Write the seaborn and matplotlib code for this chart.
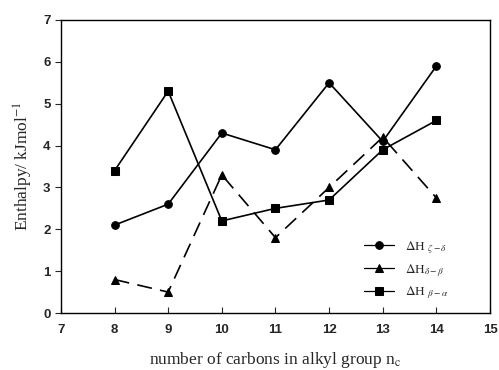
import pandas as pd
import matplotlib
matplotlib.use('Agg')
import matplotlib.pyplot as plt
import seaborn as sns

carbons = [8, 9, 10, 11, 12, 13, 14]
h_zeta_delta = [2.1, 2.6, 4.3, 3.9, 5.5, 4.1, 5.9]
h_delta_beta = [0.8, 0.5, 3.3, 1.8, 3.0, 4.2, 2.75]
h_beta_alpha = [3.4, 5.3, 2.2, 2.5, 2.7, 3.9, 4.6]

labels = [r'$\Delta$H $_{\zeta-\delta}$',
          r'$\Delta$H$_{\delta-\beta}$',
          r'$\Delta$H $_{\beta-\alpha}$']

sns.set_style('ticks')
plt.rcParams['mathtext.fontset'] = 'stix'

frames = []
for lab, vals in zip(labels, [h_zeta_delta, h_delta_beta, h_beta_alpha]):
    frames.append(pd.DataFrame({'n': carbons, 'H': vals, 'series': lab}))
df = pd.concat(frames, ignore_index=True)

fig = plt.figure(figsize=(4.99, 3.70), dpi=100)
ax = fig.add_axes([0.122, 0.154, 0.860, 0.792])

sns.lineplot(data=df, x='n', y='H', hue='series', style='series',
             palette={l: 'black' for l in labels},
             markers={labels[0]: 'o', labels[1]: '^', labels[2]: 's'},
             dashes={labels[0]: '', labels[1]: (9, 5), labels[2]: ''},
             markersize=5.5, linewidth=1.2, markeredgecolor='black',
             ax=ax)

ax.set_xlim(7, 15)
ax.set_ylim(0, 7)
ax.set_xticks(range(7, 16))
ax.set_yticks(range(0, 8))
for s in ax.spines.values():
    s.set_visible(True)
    s.set_linewidth(1.0)
    s.set_color('black')
ax.tick_params(axis='x', direction='in', length=4, labelsize=9.5, pad=8)
ax.tick_params(axis='y', direction='out', length=4, labelsize=9.5)
for t in ax.get_xticklabels() + ax.get_yticklabels():
    t.set_fontfamily('Liberation Sans')
    t.set_fontweight('bold')

ax.set_xlabel('number of carbons in alkyl group n$_{\\mathrm{c}}$',
              fontfamily='Liberation Serif', fontsize=12.5, labelpad=10)
ax.set_ylabel('Enthalpy/ kJmol$^{\\mathrm{-1}}$',
              fontfamily='Liberation Serif', fontsize=12.5, labelpad=6)

leg = ax.legend(loc='lower right', bbox_to_anchor=(0.93, 0.0), frameon=False,
                handlelength=2.3, labelspacing=0.45,
                prop={'family': 'Liberation Serif', 'size': 9.5})
for h in leg.get_lines():
    h.set_linestyle('-')
    h.set_linewidth(0.9)
    h.set_markersize(5.5)

plt.savefig('out.png', dpi=100)
